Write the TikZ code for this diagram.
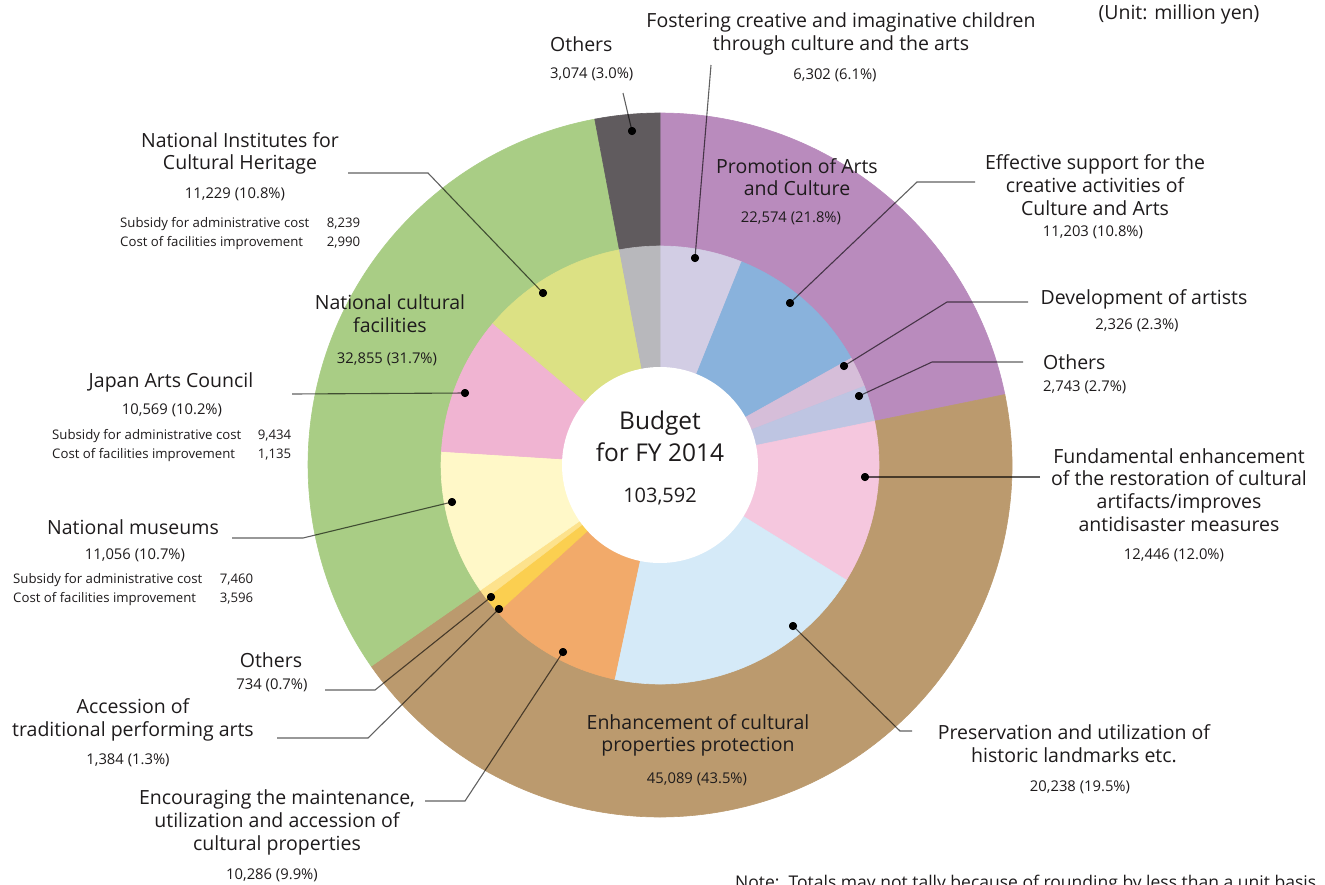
\documentclass[tikz,border=0pt]{standalone}
\usepackage{fontspec}
\setmainfont{Open Sans}
\definecolor{ink}{HTML}{1E1B1C}
\definecolor{cPurple}{HTML}{B98BBD}
\definecolor{cBrown}{HTML}{BB9A6E}
\definecolor{cGreen}{HTML}{A9CD85}
\definecolor{cDark}{HTML}{605B5E}
\definecolor{cFos}{HTML}{D2CDE4}
\definecolor{cEff}{HTML}{89B2DC}
\definecolor{cDev}{HTML}{D6BED9}
\definecolor{cOthP}{HTML}{BEC5E2}
\definecolor{cFun}{HTML}{F5C7DE}
\definecolor{cPre}{HTML}{D5EAF8}
\definecolor{cEnc}{HTML}{F2AA6A}
\definecolor{cAcc}{HTML}{FBCF50}
\definecolor{cOthB}{HTML}{FDE28C}
\definecolor{cMus}{HTML}{FFF8C8}
\definecolor{cJac}{HTML}{F0B4D2}
\definecolor{cNih}{HTML}{DCE184}
\definecolor{cGray}{HTML}{B8B8BC}
\newcommand\ringpart[4]{\filldraw[fill=#1,draw=#1,line width=0.6pt] (0,0) -- (#2:#4) arc[start angle=#2,end angle=#3,radius=#4] -- cycle;}
\tikzset{
  lbl/.style={font=\fontsize{19.5}{22.7}\selectfont, align=center, inner sep=0pt, text=ink},
  val/.style={font=\fontsize{14.8}{17}\selectfont, inner sep=0pt, text=ink},
  subtab/.style={font=\fontsize{13.2}{19}\selectfont, inner sep=0pt, text=ink},
  lead/.style={draw=black, draw opacity=0.62, line width=1.1pt},
  dotn/.style={circle, fill=black, inner sep=0pt, minimum size=8pt},
}
\begin{document}
\begin{tikzpicture}[x=1pt,y=-1pt]
\useasboundingbox (0,0) rectangle (1325,884);
\clip (0,0) rectangle (1325,884);
\fill[white] (0,0) rectangle (1325,884);
% ---------- donut ----------
\begin{scope}[shift={(660,465)},yscale=-1]
  \ringpart{cPurple}{90}{11.551}{352}
  \ringpart{cBrown}{11.551}{-145.142}{352}
  \ringpart{cGreen}{-145.142}{-259.318}{352}
  \ringpart{cDark}{-259.318}{-270}{352}
  \ringpart{cFos}{90}{68.099}{219}
  \ringpart{cEff}{68.099}{29.167}{219}
  \ringpart{cDev}{29.167}{21.084}{219}
  \ringpart{cOthP}{21.084}{11.551}{219}
  \ringpart{cFun}{11.551}{-31.701}{219}
  \ringpart{cPre}{-31.701}{-102.032}{219}
  \ringpart{cEnc}{-102.032}{-137.778}{219}
  \ringpart{cAcc}{-137.778}{-142.588}{219}
  \ringpart{cOthB}{-142.588}{-145.142}{219}
  \ringpart{cMus}{-145.142}{-183.564}{219}
  \ringpart{cJac}{-183.564}{-220.293}{219}
  \ringpart{cNih}{-220.293}{-259.318}{219}
  \ringpart{cGray}{-259.318}{-270}{219}
  \fill[white] (0,0) circle[radius=98];
\end{scope}
% ---------- dots ----------
\node[dotn] (othT-d) at (632,131) {};
\node[dotn] (fos-d) at (695,258) {};
\node[dotn] (nih-d) at (543,293) {};
\node[dotn] (eff-d) at (790,303) {};
\node[dotn] (dev-d) at (844,366) {};
\node[dotn] (othR-d) at (859,396) {};
\node[dotn] (fun-d) at (865,477) {};
\node[dotn] (jac-d) at (465,393) {};
\node[dotn] (mus-d) at (452,502) {};
\node[dotn] (othL-d) at (491,597) {};
\node[dotn] (acc-d) at (499,609) {};
\node[dotn] (enc-d) at (563,652) {};
\node[dotn] (pre-d) at (793,626) {};
% ---------- leader ends ----------
\coordinate (othT-a) at (623,93);
\coordinate (fos-a) at (711,65);
\coordinate (nih-a) at (348,173);
\coordinate (nih-b) at (428,173);
\coordinate (eff-a) at (975,182);
\coordinate (eff-b) at (917,182);
\coordinate (dev-a) at (1028,302);
\coordinate (dev-b) at (947,302);
\coordinate (othR-a) at (1023,362);
\coordinate (othR-b) at (932,362);
\coordinate (fun-a) at (1040,477);
\coordinate (jac-a) at (292,394);
\coordinate (mus-a) at (232,538);
\coordinate (mus-b) at (303,538);
\coordinate (othL-a) at (325,690);
\coordinate (othL-b) at (375,690);
\coordinate (acc-a) at (277,738);
\coordinate (acc-b) at (368,738);
\coordinate (enc-a) at (425,801);
\coordinate (enc-b) at (465,801);
\coordinate (pre-a) at (912,731);
\coordinate (pre-b) at (900,731);
% ---------- leaders ----------
\draw[lead] (othT-a) -- (othT-d.center);
\draw[lead] (fos-a) -- (fos-d.center);
\draw[lead] (nih-a) -- (nih-b) -- (nih-d.center);
\draw[lead] (eff-a) -- (eff-b) -- (eff-d.center);
\draw[lead] (dev-a) -- (dev-b) -- (dev-d.center);
\draw[lead] (othR-a) -- (othR-b) -- (othR-d.center);
\draw[lead] (fun-a) -- (fun-d.center);
\draw[lead] (jac-a) -- (jac-d.center);
\draw[lead] (mus-a) -- (mus-b) -- (mus-d.center);
\draw[lead] (othL-a) -- (othL-b) -- (othL-d.center);
\draw[lead] (acc-a) -- (acc-b) -- (acc-d.center);
\draw[lead] (enc-a) -- (enc-b) -- (enc-d.center);
\draw[lead] (pre-a) -- (pre-b) -- (pre-d.center);
% redraw dots on top
\foreach \d in {othT-d,fos-d,nih-d,eff-d,dev-d,othR-d,fun-d,jac-d,mus-d,othL-d,acc-d,enc-d,pre-d}
  \fill[black] (\d.center) circle[radius=4];
% ---------- labels ----------
\node[lbl] (unit) at (1179,14) {(Unit: million yen)};
\node[lbl, anchor=west] (othT) at (550,44) {Others};
\node[val, anchor=west] (othTv) at (550,74) {3,074 (3.0\%)};
\node[lbl] (fos) at (841,34) {Fostering creative and imaginative children\\through culture and the arts};
\node[val] (fosv) at (835,75) {6,302 (6.1\%)};
\node[lbl] (pro) at (797,177) {Promotion of Arts\\and Culture};
\node[val] (prov) at (791,218) {22,574 (21.8\%)};
\node[lbl] (nih) at (240,153.5) {National Institutes for\\Cultural Heritage};
\node[val] (nihv) at (235,194) {11,229 (10.8\%)};
\node[subtab, anchor=west] (nihs) at (120,233.5) {\begin{tabular*}{240pt}{@{}l@{\extracolsep{\fill}}r@{}}Subsidy for administrative cost & 8,239\\Cost of facilities improvement & 2,990\end{tabular*}};
\node[lbl] (ncf) at (390,313.5) {National cultural\\facilities};
\node[val] (ncfv) at (387,359) {32,855 (31.7\%)};
\node[lbl] (eff) at (1095,185) {Effective support for the\\creative activities of\\Culture and Arts};
\node[val] (effv) at (1093,232) {11,203 (10.8\%)};
\node[lbl] (dev) at (1144,299) {Development of artists};
\node[val] (devv) at (1137,325) {2,326 (2.3\%)};
\node[lbl, anchor=west] (othR) at (1043,362) {Others};
\node[val, anchor=west] (othRv) at (1043,387) {2,743 (2.7\%)};
\node[lbl] (fun) at (1179,490) {Fundamental enhancement\\of the restoration of cultural\\artifacts/improves\\antidisaster measures};
\node[val] (funv) at (1174,555) {12,446 (12.0\%)};
\node[lbl] (jac) at (171,382) {Japan Arts Council};
\node[val] (jacv) at (172,410) {10,569 (10.2\%)};
\node[subtab, anchor=west] (jacs) at (52,445.5) {\begin{tabular*}{239pt}{@{}l@{\extracolsep{\fill}}r@{}}Subsidy for administrative cost & 9,434\\Cost of facilities improvement & 1,135\end{tabular*}};
\node[lbl] (mus) at (133,527) {National museums};
\node[val] (musv) at (135,555) {11,056 (10.7\%)};
\node[subtab, anchor=west] (muss) at (13,589.5) {\begin{tabular*}{240pt}{@{}l@{\extracolsep{\fill}}r@{}}Subsidy for administrative cost & 7,460\\Cost of facilities improvement & 3,596\end{tabular*}};
\node[lbl] (othL) at (271,660) {Others};
\node[val] (othLv) at (272,685) {734 (0.7\%)};
\node[lbl] (acc) at (133,720) {Accession of\\traditional performing arts};
\node[val] (accv) at (128,760) {1,384 (1.3\%)};
\node[lbl] (enc) at (277,822.5) {Encouraging the maintenance,\\utilization and accession of\\cultural properties};
\node[val] (encv) at (272,875) {10,286 (9.9\%)};
\node[lbl] (enh) at (698,735.5) {Enhancement of cultural\\properties protection};
\node[val] (enhv) at (697,779) {45,089 (43.5\%)};
\node[lbl] (pre) at (1074,743.5) {Preservation and utilization of\\historic landmarks etc.};
\node[val] (prev) at (1080,787) {20,238 (19.5\%)};
\node[font=\fontsize{24.5}{32}\selectfont, align=center, inner sep=0pt, text=ink] (bud) at (660,436) {Budget\\for FY 2014};
\node[font=\fontsize{20}{24}\selectfont, inner sep=0pt, text=ink] (budv) at (660,497) {103,592};
\node[font=\fontsize{17.5}{20}\selectfont, inner sep=0pt, text=ink, anchor=base west] (note) at (735,888) {Note:\ \ Totals may not tally because of rounding by less than a unit basis.};
\end{tikzpicture}
\end{document}
